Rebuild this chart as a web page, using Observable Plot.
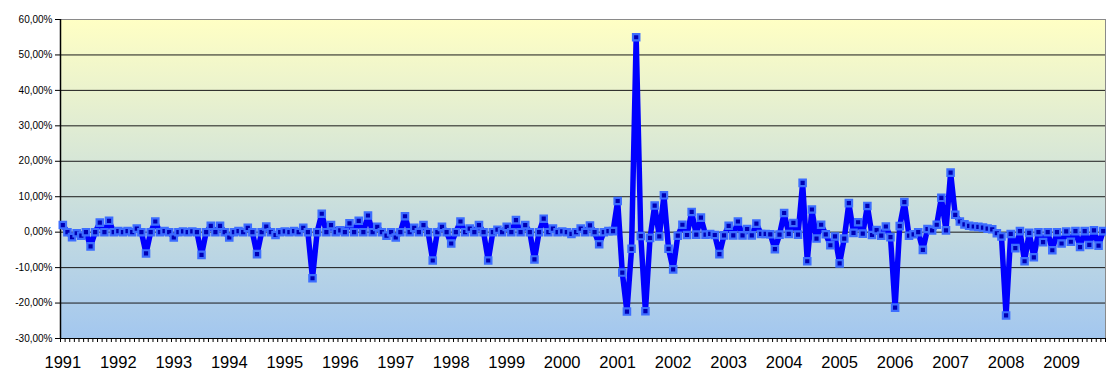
<!DOCTYPE html>
<html>
<head>
<meta charset="utf-8">
<script src="https://cdn.jsdelivr.net/npm/d3@7"></script>
<script src="https://cdn.jsdelivr.net/npm/@observablehq/plot@0.6"></script>
<style>
  html, body { margin: 0; padding: 0; background: #ffffff; }
  #chart { width: 1106px; height: 369px; overflow: hidden; }
</style>
</head>
<body>
<div id="chart"></div>
<script>
// Year labels (category axis, one label each January)
const years = ["1991","1992","1993","1994","1995","1996","1997","1998","1999","2000",
               "2001","2002","2003","2004","2005","2006","2007","2008","2009"];

// Y-axis tick values (percent)
const yTicks = [-30, -20, -10, 0, 10, 20, 30, 40, 50, 60];

// Monthly values in percent, Jan 1991 .. Oct 2009
const v1991 = [2.0, 0.0, -1.4, -0.3, -1.0, 0.0, -4.0, 0.0, 2.7, 0.0, 3.2, 0.0];
const v1992 = [0.3, 0.0, 0.3, 0.0, 1.0, 0.0, -6.0, 0.0, 3.0, 0.0, 0.3, 0.0];
const v1993 = [-1.5, 0.0, 0.2, 0.0, 0.2, 0.0, -6.4, 0.0, 1.8, 0.0, 1.8, 0.0];
const v1994 = [-1.5, 0.0, 0.3, 0.0, 1.2, 0.0, -6.2, 0.0, 1.6, 0.0, -0.8, 0.0];
const v1995 = [0.2, 0.0, 0.3, 0.0, 1.2, 0.0, -13.0, 0.0, 5.2, 0.0, 2.0, 0.0];
const v1996 = [0.5, 0.0, 2.5, 0.0, 3.2, 0.0, 4.7, 0.0, 1.5, 0.0, -1.0, 0.0];
const v1997 = [-1.5, 0.0, 4.5, 0.0, 1.2, 0.0, 2.0, 0.0, -8.0, 0.0, 1.5, 0.0];
const v1998 = [-3.2, 0.0, 3.0, 0.0, 1.0, 0.0, 2.0, 0.0, -8.0, 0.0, 0.7, 0.0];
const v1999 = [1.5, 0.0, 3.4, 0.0, 2.0, 0.0, -7.7, 0.0, 3.8, 0.0, 1.0, 0.0];
const v2000 = [0.2, 0.0, -0.5, 0.0, 1.0, 0.0, 1.9, 0.0, -3.4, 0.0, 0.3, 0.3];
const v2001 = [8.8, -11.4, -22.4, -4.7, 55.0, -1.1, -22.3, -1.6, 7.5, -1.2, 10.4, -4.7];
const v2002 = [-10.5, -1.0, 2.1, -0.8, 5.7, -0.7, 4.1, -0.7, -0.5, -0.8, -6.2, -0.9];
const v2003 = [1.8, -0.9, 3.0, -0.9, 0.9, -0.9, 2.4, -0.5, -0.5, -0.6, -4.8, -0.7];
const v2004 = [5.4, -0.5, 2.6, -0.7, 13.9, -8.2, 6.4, -1.8, 2.1, -0.6, -3.7, -1.2];
const v2005 = [-8.8, -1.8, 8.2, -0.2, 2.8, -0.4, 7.4, -0.8, 0.6, -1.0, 1.6, -1.4];
const v2006 = [-21.3, 1.7, 8.5, -1.0, -0.6, 0.0, -5.0, 0.9, 0.5, 2.1, 9.7, 0.5];
const v2007 = [16.8, 4.9, 3.0, 2.2, 1.8, 1.6, 1.5, 1.3, 1.0, 0.8, -0.3, -1.2];
const v2008 = [-23.5, -0.5, -4.5, 0.3, -8.2, -0.2, -7.1, 0.0, -2.8, 0.0, -5.1, 0.0];
const v2009 = [-3.2, 0.2, -2.7, 0.3, -4.2, 0.3, -3.6, 0.5, -3.8, 0.3];

const values = [].concat(v1991, v1992, v1993, v1994, v1995, v1996, v1997, v1998, v1999,
  v2000, v2001, v2002, v2003, v2004, v2005, v2006, v2007, v2008, v2009);

const n = values.length;
const data = values.map((v, i) => ({ x: i + 0.5, v }));

const fmtPct = d => d.toFixed(2).replace(".", ",") + "%";

const svg = Plot.plot({
  width: 1106,
  height: 369,
  marginLeft: 60,
  marginRight: 1,
  marginTop: 19,
  marginBottom: 31,
  style: { fontFamily: "'Liberation Sans', Arial, sans-serif", color: "#000", background: "transparent", overflow: "visible" },
  x: { domain: [0, n], axis: null },
  y: { domain: [-30, 60], axis: null },
  marks: [
    Plot.frame({ fill: "url(#bgGrad)", stroke: "#8a8a8a" }),
    Plot.ruleY(yTicks.filter(t => t > -30 && t < 60), { stroke: "#1a1a1a", strokeWidth: 1 }),
    Plot.ruleY([-30], { stroke: "#000", strokeWidth: 1 }),
    Plot.ruleX([0], { stroke: "#000", strokeWidth: 1.5 }),
    Plot.axisY({ ticks: yTicks, tickSize: 5, tickPadding: 3, fontSize: 10, tickFormat: fmtPct, anchor: "left", label: null }),
    Plot.axisX({ ticks: d3.range(0, n + 1), tickSize: 4, tickFormat: () => "", anchor: "bottom", label: null }),
    Plot.axisX({ ticks: years.map((y, k) => k * 12 + 0.5), tickSize: 0, tickPadding: 18, fontSize: 16.5,
                 tickFormat: d => years[Math.round((d - 0.5) / 12)], anchor: "bottom", label: null }),
    Plot.line(data, { x: "x", y: "v", stroke: "#0000ff", strokeWidth: 5.5, strokeLinejoin: "round" }),
    Plot.dot(data, { x: "x", y: "v", symbol: "square", r: 3.6, fill: "#0000b4", stroke: "#3d6dff", strokeWidth: 2.2 })
  ]
});

const defs = d3.select(svg).insert("defs", ":first-child");
const grad = defs.append("linearGradient").attr("id", "bgGrad")
  .attr("x1", 0).attr("y1", 0).attr("x2", 0).attr("y2", 1);
grad.append("stop").attr("offset", "0%").attr("stop-color", "#ffffc4");
grad.append("stop").attr("offset", "100%").attr("stop-color", "#a3c7ef");

document.getElementById("chart").appendChild(svg);
</script>
</body>
</html>
